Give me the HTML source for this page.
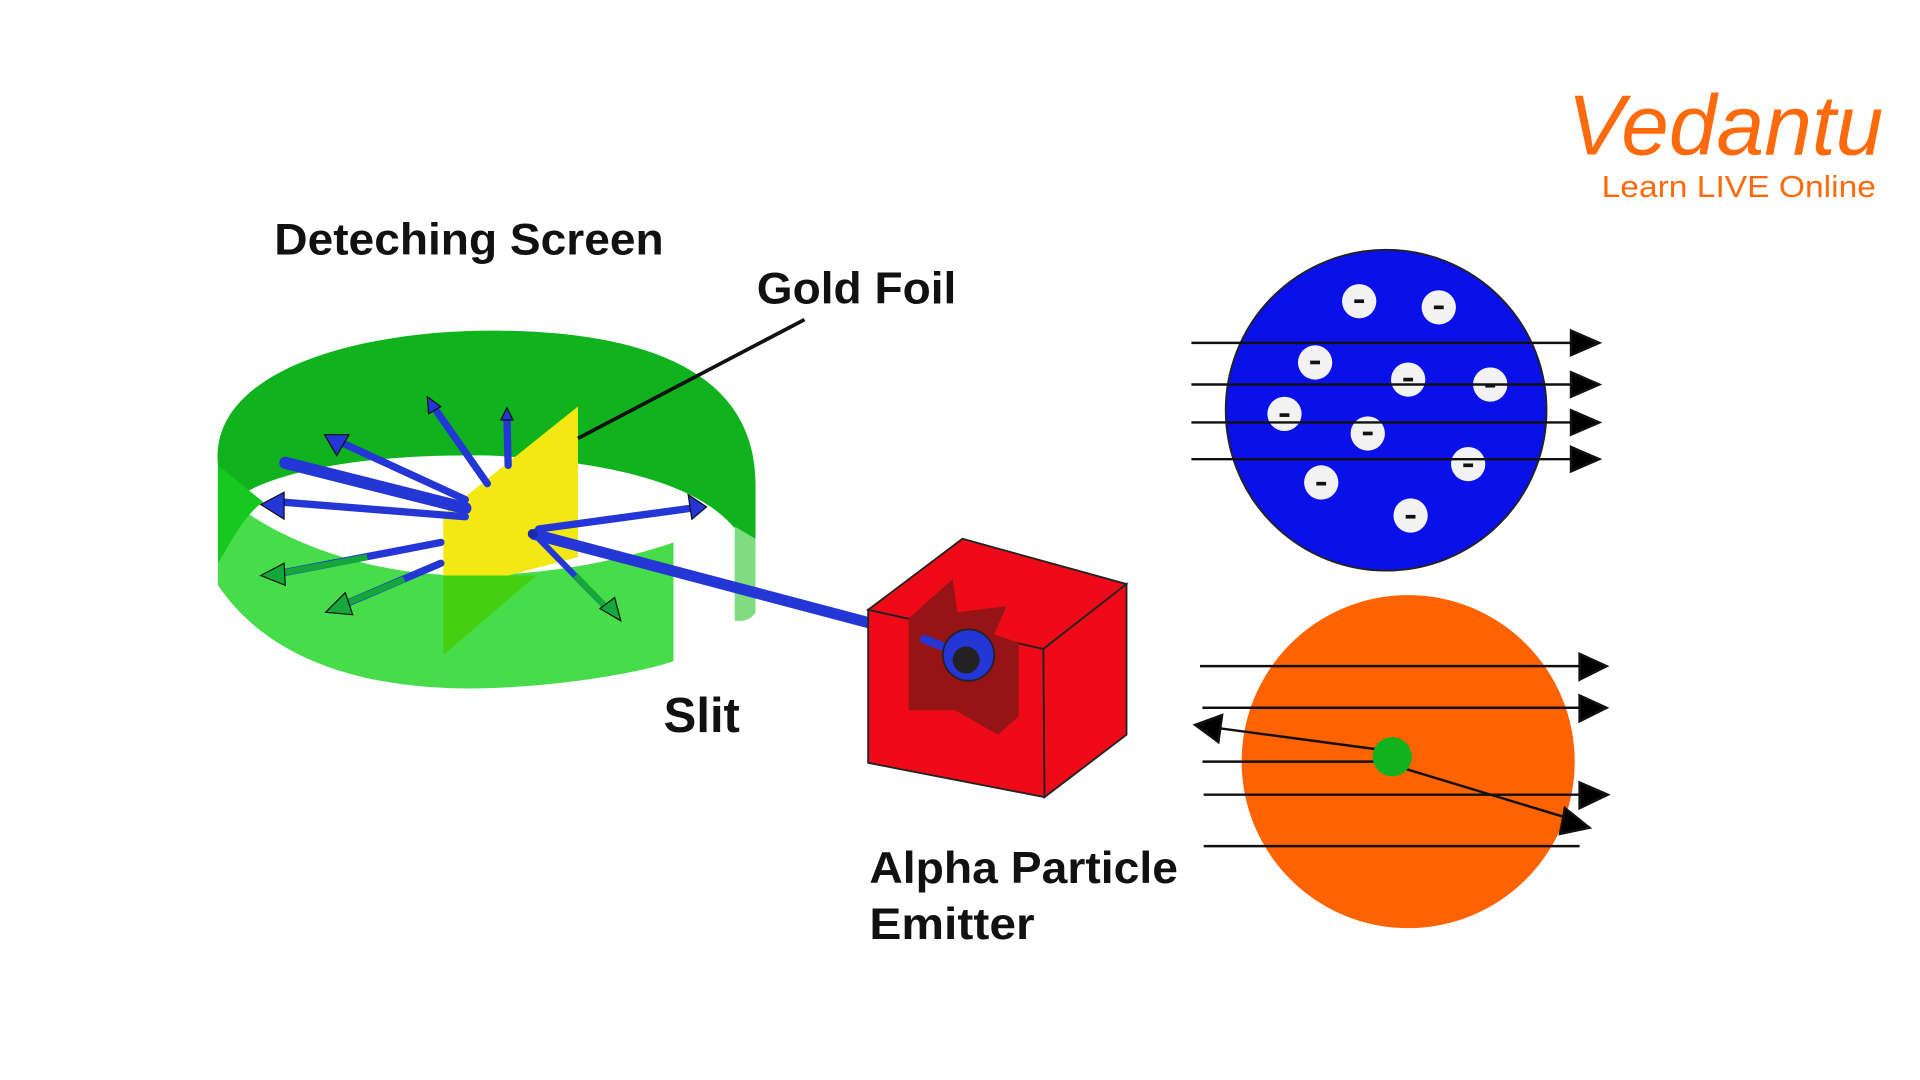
<!DOCTYPE html>
<html><head><meta charset="utf-8"><style>
html,body{margin:0;padding:0;background:#fff;width:1920px;height:1080px;overflow:hidden}
svg{display:block}
text{font-family:"Liberation Sans",sans-serif}
</style></head><body>
<svg width="1920" height="1080" viewBox="0 0 1568 882" xmlns="http://www.w3.org/2000/svg">
<!-- logo -->
<text x="1280" y="126" font-size="70" fill="#ff6a0d" font-style="italic" font-family="Liberation Serif,serif" textLength="258" lengthAdjust="spacingAndGlyphs">Vedantu</text>
<text x="1308" y="161" font-size="25" fill="#ff6a0d" textLength="224" lengthAdjust="spacingAndGlyphs">Learn LIVE Online</text>

<!-- labels -->
<text x="224" y="208" font-size="36" fill="#111" font-weight="bold" textLength="318" lengthAdjust="spacingAndGlyphs">Deteching Screen</text>
<text x="618" y="248" font-size="36" fill="#111" font-weight="bold" textLength="163" lengthAdjust="spacingAndGlyphs">Gold Foil</text>
<text x="542" y="598" font-size="40" fill="#111" font-weight="bold">Slit</text>
<text x="710" y="721" font-size="36" fill="#111" font-weight="bold" textLength="252" lengthAdjust="spacingAndGlyphs">Alpha Particle</text>
<text x="710" y="767" font-size="36" fill="#111" font-weight="bold" textLength="135" lengthAdjust="spacingAndGlyphs">Emitter</text>

<!-- detecting screen back -->
<path d="M178,380 C170,300 300,270 400,270 C500,270 620,290 617,400 L617,470 C610,420 560,380 400,372 C280,370 200,390 178,420 Z" fill="#10b31d"/>
<path d="M600,430 L617,440 L617,500 C612,508 605,507 600,507 Z" fill="#7fdc80"/>
<!-- front green -->
<path d="M178,380 L178,478 C220,540 300,565 400,562 C460,560 520,550 550,540 L550,443 C500,460 440,470 380,470 C300,470 220,440 178,400 Z" fill="#47dd4a"/>
<path d="M178,380 L178,460 C190,440 200,420 215,410 Z" fill="#16c91e"/>
<!-- gold foil -->
<path d="M362,420 L472,332 L472,455 L415,470 L362,470 Z" fill="#f2e813"/>
<path d="M362,470 L438,470 L362,535 Z" fill="#45cf12"/>
<line x1="472" y1="358" x2="657" y2="261" stroke="#111" stroke-width="3"/>

<!-- beam -->
<line x1="435" y1="436" x2="715" y2="510" stroke="#2436d6" stroke-width="9"/>
<g stroke="#2436d6" stroke-width="6" fill="#2436d6" stroke-linecap="round">
<line x1="380" y1="415" x2="233" y2="378" stroke-width="10"/>
<line x1="380" y1="408" x2="280" y2="362"/><polygon points="265,355 285,355 275,372" stroke="#111" stroke-width="1"/>
<line x1="398" y1="395" x2="356" y2="335"/><polygon points="349,324 360,332 350,338" stroke="#111" stroke-width="1"/>
<line x1="415" y1="380" x2="414" y2="342"/><polygon points="409,343 419,343 414,333" stroke="#111" stroke-width="1"/>
<line x1="380" y1="422" x2="230" y2="410"/><polygon points="213,412 232,402 232,424" stroke="#111" stroke-width="1"/>
<line x1="440" y1="432" x2="565" y2="415"/><polygon points="577,414 562,404 565,424" stroke="#111" stroke-width="1"/>
<line x1="360" y1="443" x2="230" y2="468"/>
<line x1="360" y1="460" x2="285" y2="492"/>
</g>
<g stroke="#14a83a" stroke-width="5" fill="#14a83a">
<line x1="300" y1="455" x2="230" y2="468"/><polygon points="213,470 232,460 233,478" stroke="#111" stroke-width="1"/>
<line x1="330" y1="473" x2="280" y2="494"/><polygon points="266,500 282,484 288,502" stroke="#111" stroke-width="1"/>
<line x1="440" y1="440" x2="497" y2="498" stroke="#2436d6"/><line x1="470" y1="470" x2="497" y2="498"/><polygon points="507,507 490,497 502,488" stroke="#111" stroke-width="1"/>
</g>
<circle cx="435" cy="436" r="4" fill="#1a2aa8"/>

<!-- emitter box -->
<polygon points="709,498 786,440 920,477 852,530" fill="#ee0b17" stroke="#222" stroke-width="1.5"/>
<polygon points="852,530 920,477 920,600 853,651" fill="#ee0b17" stroke="#222" stroke-width="1.5"/>
<polygon points="709,498 852,530 853,651 709,623" fill="#ee0b17" stroke="#222" stroke-width="1.5"/>
<polygon points="742,505 778,473 782,500 822,495 812,518 832,525 832,585 815,600 780,580 742,580" fill="#961416"/>
<line x1="755" y1="522" x2="775" y2="530" stroke="#2436d6" stroke-width="7" stroke-linecap="round"/>
<circle cx="791" cy="535" r="21" fill="#2436d6" stroke="#222" stroke-width="1.5"/>
<circle cx="789" cy="539" r="11" fill="#222"/>

<!-- blue atom -->
<circle cx="1132" cy="335" r="131" fill="#0a10e8" stroke="#222" stroke-width="1.5"/>
<g fill="#f2f2f2">
<circle cx="1110" cy="246" r="14"/><circle cx="1175" cy="251" r="14"/><circle cx="1074" cy="296" r="14"/>
<circle cx="1150" cy="310" r="14"/><circle cx="1217" cy="314" r="14"/><circle cx="1049" cy="338" r="14"/>
<circle cx="1117" cy="354" r="14"/><circle cx="1199" cy="379" r="14"/><circle cx="1079" cy="394" r="14"/><circle cx="1152" cy="421" r="14"/>
</g>
<g stroke="#111" stroke-width="3">
<line x1="1106" y1="246" x2="1114" y2="246"/><line x1="1171" y1="251" x2="1179" y2="251"/><line x1="1070" y1="296" x2="1078" y2="296"/>
<line x1="1146" y1="310" x2="1154" y2="310"/><line x1="1213" y1="315" x2="1221" y2="315"/><line x1="1045" y1="339" x2="1053" y2="339"/>
<line x1="1113" y1="354" x2="1121" y2="354"/><line x1="1195" y1="380" x2="1203" y2="380"/><line x1="1075" y1="395" x2="1083" y2="395"/><line x1="1148" y1="422" x2="1156" y2="422"/>
</g>
<g stroke="#111" stroke-width="2" fill="#000">
<line x1="973" y1="280" x2="1285" y2="280"/><polygon points="1283,270 1306,280 1283,290"/>
<line x1="973" y1="314" x2="1285" y2="314"/><polygon points="1283,304 1306,314 1283,324"/>
<line x1="973" y1="345" x2="1285" y2="345"/><polygon points="1283,335 1306,345 1283,355"/>
<line x1="973" y1="375" x2="1285" y2="375"/><polygon points="1283,365 1306,375 1283,385"/>
</g>

<!-- orange atom -->
<circle cx="1150" cy="622" r="136" fill="#ff6200"/>
<g stroke="#111" stroke-width="2" fill="#000">
<line x1="980" y1="544" x2="1292" y2="544"/><polygon points="1290,534 1312,544 1290,555"/>
<line x1="982" y1="578" x2="1292" y2="578"/><polygon points="1290,568 1312,578 1290,589"/>
<line x1="982" y1="622" x2="1125" y2="622"/>
<line x1="1125" y1="612" x2="990" y2="594"/><polygon points="976,592 998,584 995,606"/>
<line x1="983" y1="649" x2="1292" y2="649"/><polygon points="1290,639 1313,649 1290,660"/>
<line x1="1148" y1="628" x2="1280" y2="668"/><polygon points="1298,676 1278,660 1274,681"/>
<line x1="983" y1="691" x2="1290" y2="691"/>
</g>
<circle cx="1137" cy="618" r="16" fill="#10b31d"/>
</svg>
</body></html>
